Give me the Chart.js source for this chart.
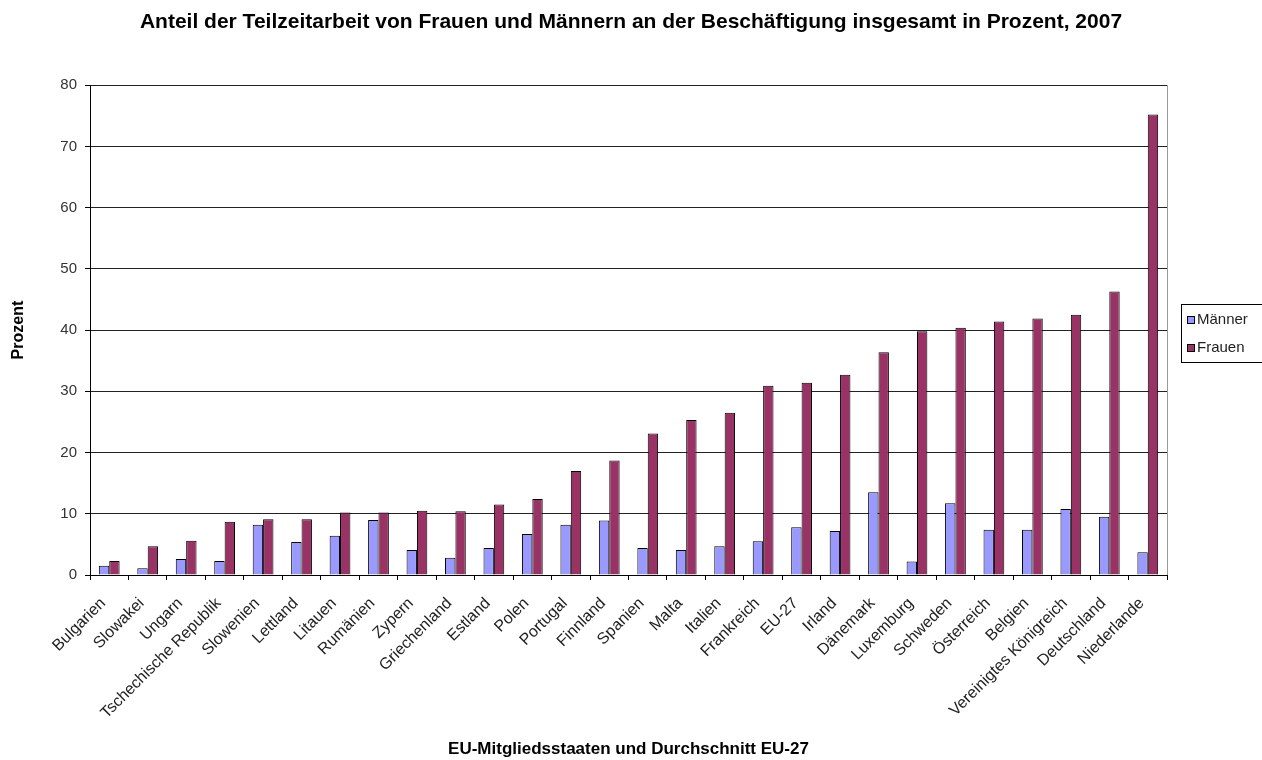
<!DOCTYPE html>
<html>
<head>
<meta charset="utf-8">
<script src="https://cdn.jsdelivr.net/npm/chart.js@4"></script>
<style>
  html, body { margin: 0; padding: 0; background: #fff; }
  #wrap { width: 1262px; height: 760px; position: relative; }
</style>
</head>
<body>
<div id="wrap"><canvas id="teilzeitChart" width="1262" height="760"></canvas></div>
<script>
const countries = ['Bulgarien', 'Slowakei', 'Ungarn', 'Tschechische Republik', 'Slowenien', 'Lettland',
    'Litauen', 'Rumänien', 'Zypern', 'Griechenland', 'Estland', 'Polen', 'Portugal', 'Finnland',
    'Spanien', 'Malta', 'Italien', 'Frankreich', 'EU-27', 'Irland', 'Dänemark', 'Luxemburg',
    'Schweden', 'Österreich', 'Belgien', 'Vereinigtes Königreich', 'Deutschland', 'Niederlande'];
const maenner = [1.5, 1.1, 2.6, 2.3, 8.2, 5.4, 6.4, 9.0, 4.1, 2.8, 4.4, 6.7, 8.2, 8.9,
    4.4, 4.1, 4.7, 5.5, 7.8, 7.2, 13.5, 2.2, 11.7, 7.4, 7.4, 10.8, 9.5, 3.7];
const frauen = [2.3, 4.7, 5.6, 8.7, 9.1, 9.1, 10.2, 10.2, 10.5, 10.4, 11.5, 12.4, 17.0, 18.7,
    23.1, 25.3, 26.5, 30.9, 31.4, 32.7, 36.4, 39.8, 40.4, 41.4, 41.9, 42.5, 46.3, 75.2];
const yTicks = [0, 10, 20, 30, 40, 50, 60, 70, 80];

const FONT = 'Arial, "Liberation Sans", sans-serif';

// right border of the plot area + boxed legend
const frameAndLegend = {
    id: 'frameAndLegend',
    afterDraw(chart) {
        const ctx = chart.ctx;
        const a = chart.chartArea;
        ctx.save();
        ctx.strokeStyle = '#999';
        ctx.lineWidth = 1;
        ctx.beginPath();
        ctx.moveTo(a.right + 0.5, a.top);
        ctx.lineTo(a.right + 0.5, a.bottom);
        ctx.stroke();

        // legend (box runs off the right edge like in the original)
        const lx = 1181, ly = 304, lw = 100, lh = 58;
        ctx.strokeStyle = '#000';
        ctx.strokeRect(lx + 0.5, ly + 0.5, lw, lh);
        ctx.font = '15px ' + FONT;
        ctx.textBaseline = 'middle';
        chart.data.datasets.forEach((ds, i) => {
            const cy = ly + 16 + i * 28;
            ctx.fillStyle = ds.backgroundColor;
            ctx.fillRect(lx + 6, cy - 4, 8, 8);
            ctx.strokeStyle = '#000';
            ctx.strokeRect(lx + 6.5, cy - 3.5, 7, 7);
            ctx.fillStyle = '#222';
            ctx.fillText(ds.label, lx + 16, cy);
        });
        ctx.restore();
    }
};

const ctx = document.getElementById('teilzeitChart').getContext('2d');
const teilzeitChart = new Chart(ctx, {
    type: 'bar',
    data: {
        labels: countries,
        datasets: [{
            label: 'Männer',
            data: maenner,
            backgroundColor: '#9999ff',
            borderColor: '#000',
            borderWidth: 1
        }, {
            label: 'Frauen',
            data: frauen,
            backgroundColor: '#993366',
            borderColor: '#000',
            borderWidth: 1
        }]
    },
    options: {
        responsive: false,
        animation: false,
        devicePixelRatio: 1,
        barPercentage: 1.0,
        categoryPercentage: 0.54,
        layout: {
            padding: { left: 0, right: 0, top: 0, bottom: 0 }
        },
        plugins: {
            legend: { display: false },
            tooltip: { enabled: false },
            title: {
                display: true,
                text: 'Anteil der Teilzeitarbeit von Frauen und Männern an der Beschäftigung insgesamt in Prozent, 2007',
                color: '#000',
                font: { family: FONT, size: 21, weight: 'bold' },
                padding: { top: 10, bottom: 50 }
            }
        },
        scales: {
            y: {
                min: 0,
                max: 80,
                afterBuildTicks: function(scale) {
                    scale.ticks = yTicks.map(v => ({ value: v }));
                },
                afterFit: function(scale) {
                    scale.width = 90;
                },
                border: { color: '#000', width: 1 },
                grid: {
                    color: '#222',
                    lineWidth: 1,
                    tickLength: 5,
                    tickColor: '#000'
                },
                ticks: {
                    color: '#333',
                    padding: 8,
                    font: { family: FONT, size: 15 }
                },
                title: {
                    display: true,
                    text: 'Prozent',
                    color: '#000',
                    font: { family: FONT, size: 16, weight: 'bold' },
                    padding: { top: 9, bottom: 0 }
                }
            },
            // empty right-hand axis, only reserves the room where the legend sits
            legendSpace: {
                type: 'linear',
                position: 'right',
                min: 0,
                max: 80,
                afterFit: function(scale) {
                    scale.width = 95;
                },
                border: { display: false },
                grid: { display: false },
                ticks: { display: false }
            },
            x: {
                afterFit: function(scale) {
                    scale.height = 185;
                },
                border: { color: '#000', width: 1 },
                grid: {
                    display: true,
                    offset: true,
                    drawOnChartArea: false,
                    tickLength: 5,
                    tickColor: '#000'
                },
                ticks: {
                    color: '#222',
                    autoSkip: false,
                    minRotation: 45,
                    maxRotation: 45,
                    padding: 14,
                    labelOffset: -6,
                    font: { family: FONT, size: 16 }
                },
                title: {
                    display: true,
                    text: 'EU-Mitgliedsstaaten und Durchschnitt EU-27',
                    color: '#000',
                    font: { family: FONT, size: 17, weight: 'bold' },
                    padding: { top: 0, bottom: 0 }
                }
            }
        }
    },
    plugins: [frameAndLegend]
});
</script>
</body>
</html>
